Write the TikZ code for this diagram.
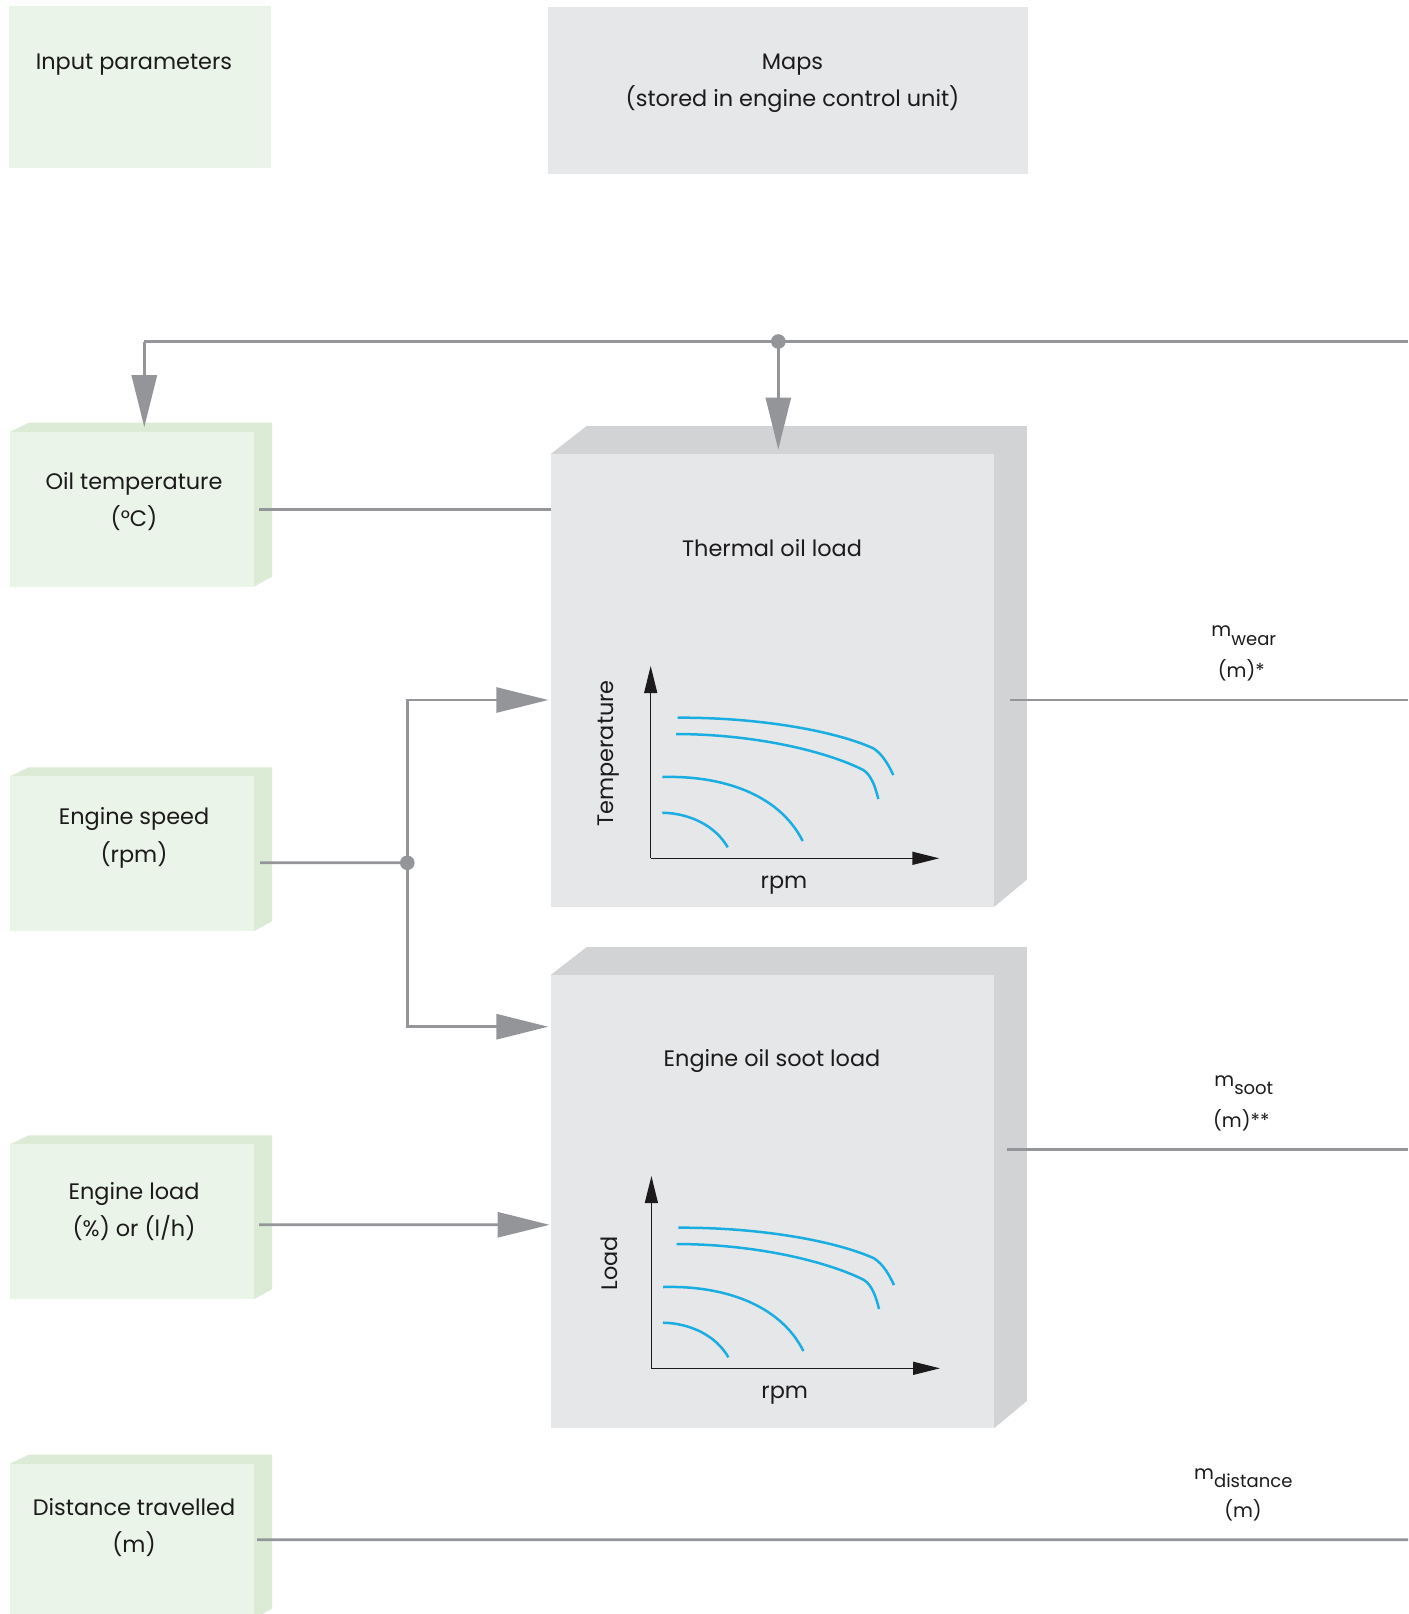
\documentclass[tikz,border=0pt]{standalone}
\usepackage{fontspec}
\setmainfont{Poppins}
\usetikzlibrary{arrows.meta,calc,backgrounds}
\definecolor{lgray}{HTML}{939598}
\definecolor{gfront}{HTML}{EAF4E8}
\definecolor{gside}{HTML}{DCEBD6}
\definecolor{bfront}{HTML}{E6E7E8}
\definecolor{bside}{HTML}{D1D3D4}
\definecolor{txt}{HTML}{1C1A1B}
\definecolor{cyanc}{HTML}{1AADE2}
\newcommand\mainfs{\fontsize{22.4}{37}\selectfont}
\newcommand\smallfs{\fontsize{19.3}{29}\selectfont}
\newcommand\subtxt[1]{\raisebox{-8.3pt}{\fontsize{18}{18}\selectfont #1}}
\tikzset{
  tb/.style={text=txt, font=\mainfs, anchor=base, inner sep=0pt, outer sep=0pt},
  rb/.style={text=txt, font=\smallfs, anchor=base, inner sep=0pt, outer sep=0pt},
  flatg/.style={fill=gfront, draw=none, inner sep=0pt, outer sep=0pt, minimum width=262pt, minimum height=162pt},
  flatb/.style={fill=bfront, draw=none, inner sep=0pt, outer sep=0pt, minimum width=480.5pt, minimum height=167pt},
  gface/.style={fill=gfront, draw=none, inner sep=0pt, outer sep=0pt, minimum width=244pt, minimum height=155pt},
  bface/.style={fill=bfront, draw=none, inner sep=0pt, outer sep=0pt, minimum width=443.6pt, minimum height=452.7pt},
  conn/.style={draw=lgray, line width=2.8pt},
  bigarrow/.style={conn, -{Triangle[length=52pt,width=25pt]}},
  jdot/.style={circle, fill=lgray, draw=none, minimum size=14.6pt, inner sep=0pt},
  curve/.style={draw=cyanc, line width=2.5pt},
  axisline/.style={draw=txt, line width=1.4pt, -{Triangle[length=27pt,width=13pt]}},
}
\newcommand\mychart[3]{%
\begin{scope}[shift={#1}]
  \draw[axisline] (0,0) -- (0,-192.3);
  \draw[axisline] (0,0) -- (288.6,0);
  \draw[curve] (27,-140.6) .. controls (110,-141) and (185,-127) .. (222.6,-110) .. controls (232,-104) and (238,-93) .. (242.6,-83.3);
  \draw[curve] (25.3,-124.3) .. controls (110,-124) and (180,-105) .. (212.6,-88.3) .. controls (221,-83) and (225,-70) .. (227.6,-59.3);
  \draw[curve] (11.6,-81.3) .. controls (70,-83) and (128,-65) .. (152,-17.3);
  \draw[curve] (11.6,-45.6) .. controls (40,-45) and (65,-32) .. (77,-11);
  \node[text=txt, font=\mainfs, rotate=90, inner sep=0pt] (#3y) at (-42.4,-105) {#2};
  \node[text=txt, font=\mainfs, inner sep=0pt] (#3x) at (133.3,26.7) {rpm};
\end{scope}}
\begin{document}
\begin{tikzpicture}[x=1pt,y=-1pt]
\useasboundingbox (0,0) rectangle (1408,1614);
% header boxes
\node[flatg] (inp) at (140,87) {};
\node[tb] (inptxt) at (134,69) {Input parameters};
\node[flatb] (maps) at (787.75,90.5) {};
\node[tb] (mapsA) at (792.5,69) {Maps};
\node[tb] (mapsB) at (792.5,106.5) {(stored in engine control unit)};
% input boxes (front faces)
\node[gface] (oil) at (132,509.2) {};
\node[gface] (speed) at (132,853.75) {};
\node[gface] (load) at (132,1221.75) {};
\node[gface] (dist) at (132,1541.1) {};
% map boxes (front faces)
\node[bface] (thermal) at (772.5,680.35) {};
\node[bface, minimum height=453pt] (soot) at (772.5,1201.5) {};
\begin{scope}[on background layer]
  \foreach \b in {oil,speed,load,dist}
    \fill[gside] (\b.north west) -- ++(19,-9) -- ($(\b.north east)+(18,-9)$) -- ($(\b.south east)+(18,-10)$) -- (\b.south east) -- cycle;
  \foreach \b in {thermal,soot}
    \fill[bside] (\b.north west) -- ++(36,-28) -- ($(\b.north east)+(32.5,-28)$) -- ($(\b.south east)+(32.5,-27)$) -- (\b.south east) -- cycle;
\end{scope}
% texts
\node[tb] (oilA) at (134,489) {Oil temperature};
\node[tb] (oilB) at (134,526) {(°C)};
\node[tb] (speedA) at (134,824.6) {Engine speed};
\node[tb] (speedB) at (134,862.3) {(rpm)};
\node[tb] (loadA) at (134,1199.2) {Engine load};
\node[tb] (loadB) at (134,1236.8) {(\%) or (l/h)};
\node[tb] (distA) at (134,1515.2) {Distance travelled};
\node[tb] (distB) at (134,1552.3) {(m)};
\node[tb] (thermtxt) at (772,556) {Thermal oil load};
\node[tb] (soottxt) at (772,1066.4) {Engine oil soot load};
% charts
\mychart{(650.7,858.3)}{Temperature}{ct}
\mychart{(651.4,1368.3)}{Load}{cs}
% connectors
\coordinate (tl) at (144.3,341.5);
\coordinate (tr) at (1408,341.5);
\node[jdot] (topdot) at (778.3,341.5) {};
\draw[conn] (tr) -- (tl);
\draw[bigarrow, shorten >=4.5pt] (tl) -- (tl |- oil.north);
\draw[bigarrow, shorten >=4.5pt] (topdot.center) -- (topdot.center |- thermal.north);
\draw[conn] ($(oil.east)+(5.3,0.3)$) -- ($(oil.east -| thermal.west)+(0,0.3)$);
\node[jdot] (spdot) at (407.3,862.8) {};
\draw[conn] ($(speed.east)+(6,9)$) -- (spdot.center);
\draw[bigarrow, shorten >=2.4pt] (spdot.center) |- ($(thermal.west)+(0,19.65)$);
\draw[bigarrow, shorten >=2.4pt] (spdot.center) |- ($(soot.west)+(0,-174.8)$);
\draw[bigarrow, shorten >=1.1pt] ($(load.east)+(5,3)$) -- ($(soot.west)+(0,23.3)$);
\coordinate (wearout) at (1408,700);
\coordinate (sootout) at (1408,1149.7);
\coordinate (distout) at (1408,1539.7);
\draw[conn] ($(thermal.east)+(15.3,19.65)$) -- (wearout);
\draw[conn] ($(soot.east)+(12.3,-51.8)$) -- (sootout);
\draw[conn] ($(dist.east)+(3,-1.4)$) -- (distout);
% output labels
\node[rb] (wearA) at (1243.8,636.7) {m\subtxt{wear}};
\node[rb] (wearB) at (1241.3,677.3) {(m)*};
\node[rb] (sootA) at (1243.8,1086.5) {m\subtxt{soot}};
\node[rb] (sootB) at (1241.3,1127) {(m)**};
\node[rb] (distoA) at (1243.3,1479.3) {m\subtxt{distance}};
\node[rb] (distoB) at (1243,1517.3) {(m)};
\end{tikzpicture}
\end{document}
